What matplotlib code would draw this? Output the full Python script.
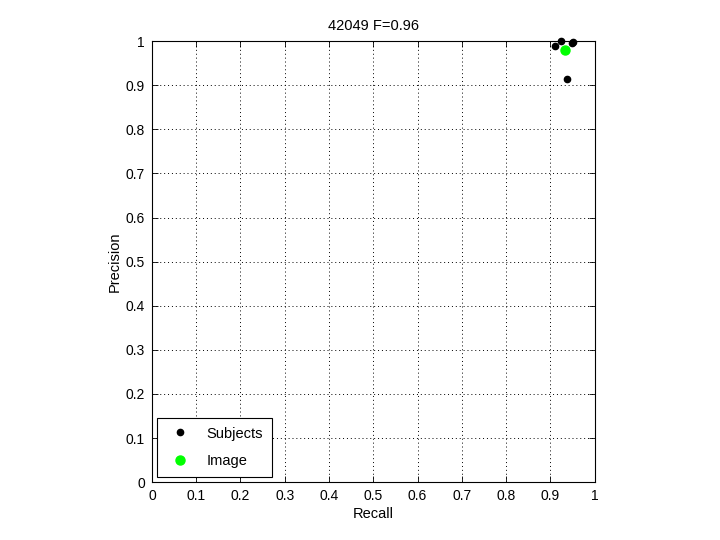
import matplotlib
matplotlib.use('Agg')
from matplotlib import pyplot as plt

plt.rcParams['font.family'] = ['Liberation Sans', 'DejaVu Sans']
plt.rcParams['font.size'] = 10

# subject boundary scores (recall, precision)
subj_recall = [0.910, 0.923, 0.948, 0.950, 0.938]
subj_precision = [0.989, 1.000, 0.995, 0.998, 0.914]
# image-level score
img_recall = [0.933]
img_precision = [0.979]
title = '42049 F=0.96'
ticks = [0, 0.1, 0.2, 0.3, 0.4, 0.5, 0.6, 0.7, 0.8, 0.9, 1]
tick_labels = ['0', '0.1', '0.2', '0.3', '0.4', '0.5', '0.6', '0.7', '0.8', '0.9', '1']

fig = plt.figure(figsize=(7.2, 5.4), dpi=100)
ax = fig.add_axes([0.211, 0.107, 0.615, 0.817])
ax.plot(subj_recall, subj_precision, 'o', color='black', markersize=4.5, label='Subjects', clip_on=False)
ax.plot(img_recall, img_precision, 'o', color='#00ff00', markersize=6.5, label='Image', clip_on=False)
ax.set_xlim(0, 1)
ax.set_ylim(0, 1)
ax.set_xticks(ticks)
ax.set_xticklabels(tick_labels)
ax.set_yticks(ticks)
ax.set_yticklabels(tick_labels)
ax.tick_params(direction='in', top=True, right=True, length=4, width=0.6, labelsize=10, pad=5)
ax.grid(True, linestyle=(0, (1, 3)), color='black', linewidth=0.7)
for s in ax.spines.values():
    s.set_linewidth(0.8)
ax.set_xlabel('Recall', fontsize=10.5, labelpad=3)
ax.set_ylabel('Precision', fontsize=10.5, labelpad=3)
ax.set_title(title, fontsize=10.5, pad=8)
leg = ax.legend(loc='lower left', fancybox=False, edgecolor='black', framealpha=1,
                fontsize=10.5, handletextpad=0.8, borderpad=0.6, labelspacing=0.95,
                borderaxespad=0.35)
leg.get_frame().set_linewidth(0.8)

plt.savefig('out.png')
plt.close()
